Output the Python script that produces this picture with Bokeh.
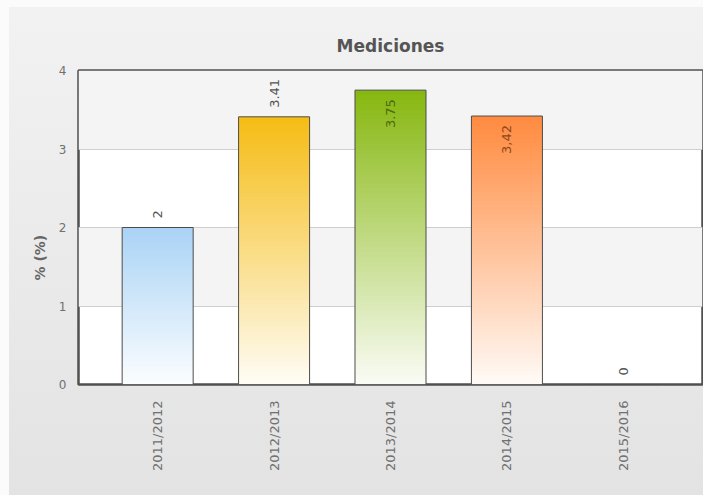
import numpy as np
from math import pi
from bokeh.plotting import figure
from bokeh.models import Range1d, FixedTicker, ColumnDataSource, Title
from bokeh.embed import file_html
from bokeh.resources import INLINE
from bokeh.core.properties import value

# ---- data ----
categories = ["2011/2012", "2012/2013", "2013/2014", "2014/2015", "2015/2016"]
values = [2.0, 3.41, 3.75, 3.42, 0.0]
value_labels = ["2", "3.41", "3.75", "3,42", "0"]
label_inside = [False, False, True, True, False]
y_ticks = [0, 1, 2, 3, 4]
title_text = "Mediciones"
y_title = "% (%)"

# ---- styles ----
top_colors = ["#a9d3f5", "#f5bc14", "#86b70f", "#ff8a3e", "#cccccc"]
label_colors = ["#555555", "#555555", "#4c6a12", "#8e4a1c", "#555555"]
FONT = "DejaVu Sans"
BAR_W = 0.61

p = figure(width=703, height=495, output_backend="svg", toolbar_location=None,
           x_range=Range1d(-0.68, 4.68), y_range=Range1d(0, 4),
           min_border_left=78, min_border_right=1, min_border_top=70, min_border_bottom=111)
p.border_fill_color = None
p.styles = {"background": "linear-gradient(to bottom, #f2f2f2, #e3e3e3) 9px 7px / 694px 488px no-repeat, #fbfbfb"}
p.background_fill_color = "#ffffff"
p.outline_line_color = "#505050"
p.outline_line_width = 2.5

# title
p.title.text = title_text
p.title.align = "center"
p.title.text_font = FONT
p.title.text_font_size = "17px"
p.title.text_font_style = "bold"
p.title.text_color = "#555555"
p.title.standoff = 30

# grid
p.xgrid.grid_line_color = None
p.ygrid.ticker = FixedTicker(ticks=y_ticks)
p.ygrid.grid_line_color = "#cfcfcf"
p.ygrid.band_fill_color = "#f4f4f4"
p.ygrid.band_fill_alpha = 1.0

# axes
xs = list(range(len(categories)))
for ax in (p.xaxis[0], p.yaxis[0]):
    ax.axis_line_color = None
    ax.major_tick_line_color = None
    ax.minor_tick_line_color = None
    ax.major_label_text_font = FONT
    ax.major_label_text_color = "#707070"
p.xaxis.major_label_text_font_size = "13px"
p.yaxis.major_label_text_font_size = "12px"
p.xaxis.ticker = FixedTicker(ticks=xs)
p.xaxis.major_label_overrides = {i: c for i, c in enumerate(categories)}
p.xaxis.major_label_orientation = pi / 2
p.xaxis.major_label_standoff = 10
p.yaxis.ticker = FixedTicker(ticks=y_ticks)
p.yaxis.major_label_standoff = 6


def hex2rgb(h):
    h = h.lstrip("#")
    return np.array([int(h[i:i + 2], 16) for i in (0, 2, 4)], dtype=float)


# gradient bars built from the values (overlapping strips to hide seams)
n = 60
L, R, B, T, C = [], [], [], [], []
for i, v in enumerate(values):
    if v <= 0:
        continue
    top_rgb = hex2rgb(top_colors[i])
    bot_rgb = top_rgb * 0.04 + 255 * 0.96
    edges = np.linspace(0, v, n + 1)
    step = v / n
    for k in range(n):
        f = (k + 0.5) / n
        rgb = bot_rgb + (top_rgb - bot_rgb) * f
        L.append(i - BAR_W / 2)
        R.append(i + BAR_W / 2)
        B.append(edges[k])
        T.append(min(edges[k + 1] + step * 0.6, v))
        C.append("#%02x%02x%02x" % tuple(int(round(c)) for c in rgb))
p.quad(left=L, right=R, bottom=B, top=T, fill_color=C, line_color=None)
p.vbar(x=xs, top=values, width=BAR_W, fill_color=None, line_color="#4d4d4d", line_width=1)

# value labels
out_idx = [i for i in xs if not label_inside[i]]
in_idx = [i for i in xs if label_inside[i]]
for idx, align, off in ((out_idx, "left", -9), (in_idx, "right", 9)):
    src = ColumnDataSource(dict(x=[xs[i] for i in idx], y=[values[i] for i in idx],
                                t=[value_labels[i] for i in idx],
                                c=[label_colors[i] for i in idx]))
    p.text(x="x", y="y", text="t", source=src, angle=pi / 2, text_align=align,
           text_baseline="middle", y_offset=off, text_color="c",
           text_font=value(FONT), text_font_size="13px")

# y axis title
p.add_layout(Title(text=y_title, align="left", offset=104, standoff=16,
                   text_font=FONT, text_font_size="14px", text_font_style="bold",
                   text_color="#666666"), "left")

open("out.html", "w").write(file_html(p, INLINE))
